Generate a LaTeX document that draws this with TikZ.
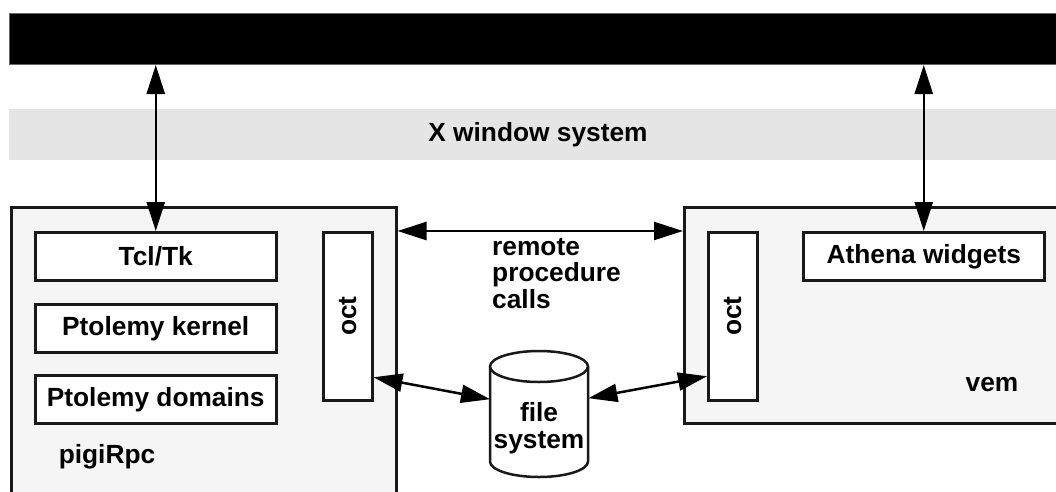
\documentclass[tikz,border=0pt]{standalone}
\usepackage{fontspec}
\setmainfont{Liberation Sans}
\usetikzlibrary{arrows.meta,calc}
\begin{document}
\begin{tikzpicture}[x=1pt,y=-1pt,
  every node/.style={font=\fontsize{26.3}{26.5}\selectfont\bfseries, inner sep=0pt},
  proc/.style={draw=black!90, line width=2.5pt, fill=black!4, anchor=north west},
  lay/.style={draw=black!90, line width=2.5pt, fill=white, anchor=north west},
  conn/.style={line width=2.5pt, {Triangle[length=29pt,width=18pt]}-{Triangle[length=29pt,width=18pt]}}
]
\useasboundingbox (0,0) rectangle (1056,491);
\begin{scope}
\clip (0,0) rectangle (1056,491);
% black bar
\node[fill=black, draw=black!60, line width=1pt, minimum width=1060pt, minimum height=51pt, anchor=north west] (xbar) at (9,13) {};
% gray band
\node[fill=black!10, minimum width=1060pt, minimum height=51pt, anchor=north west] (band) at (9,109) {};
\node at (538,135) {X window system};
% process boxes
\node[proc, minimum width=385pt, minimum height=300pt] (pigi) at (10,206) {};
\node[proc, minimum width=385pt, minimum height=216pt] (vem) at (683,206) {};
\end{scope}
% inner layers left
\node[lay, minimum width=241pt, minimum height=48pt] (tcl) at (34,231) {};
\node at (tcl.center) {Tcl/Tk};
\node[lay, minimum width=241pt, minimum height=48pt] (kern) at (34,303) {};
\node at (kern.center) {Ptolemy kernel};
\node[lay, minimum width=241pt, minimum height=48pt] (dom) at (34,374) {};
\node at (dom.center) {Ptolemy domains};
\node at (107,457) {pigiRpc};
\node[lay, minimum width=49pt, minimum height=168pt] (octL) at (322,231) {};
\node[rotate=90] at (octL.center) {oct};
% inner layers right
\node[lay, minimum width=241pt, minimum height=48pt] (ath) at (802,231) {};
\node at (ath.center) {Athena widgets};
\node[lay, minimum width=49pt, minimum height=168pt] (octR) at (707,231) {};
\node[rotate=90] at (octR.center) {oct};
\node at (992,385) {vem};
% file system cylinder
\node[minimum width=98pt, minimum height=126pt, anchor=north west] (fs) at (490,351) {};
\fill[white] (490,366.5) arc[start angle=180, end angle=360, x radius=49, y radius=15.5]
  -- (588,461.5) arc[start angle=0, end angle=-180, x radius=49, y radius=15.5] -- cycle;
\draw[line width=2.5pt, black!90] (490,366.5) -- (490,461.5)
  arc[start angle=180, end angle=360, x radius=49, y radius=-15.5] -- (588,366.5);
\draw[line width=2.5pt, black!90, fill=white] (539,366.5) ellipse[x radius=49, y radius=15.5];
\node[align=center] at (539,428) {file\\system};
% remote procedure calls
\node[align=left, anchor=north west] (rpc) at (492,238) {remote\\procedure\\calls};
% connectors
\draw[conn] (tcl.north |- xbar.south) -- (tcl.north);
\draw[conn] (ath.north |- xbar.south) -- (ath.north);
\draw[conn] (pigi.east |- tcl.north) -- (vem.west |- tcl.north);
\draw[conn] ([yshift=-61pt]octL.east) -- ([yshift=15pt]fs.west);
\draw[conn] ([yshift=16pt]fs.east) -- ([yshift=-60pt]octR.west);
\end{tikzpicture}
\end{document}
